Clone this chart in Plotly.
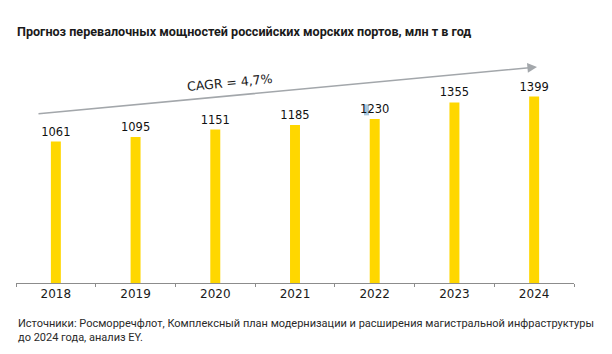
import plotly.graph_objects as go

years = ["2018", "2019", "2020", "2021", "2022", "2023", "2024"]
capacity = [1061, 1095, 1151, 1185, 1230, 1355, 1399]
title_text = "Прогноз перевалочных мощностей российских морских портов, млн т в год"
cagr_text = "CAGR = 4,7%"
source_text = ("Источники: Росморречфлот, Комплексный план модернизации и расширения магистральной инфраструктуры"
               "<br>до 2024 года, анализ EY.")

W, H = 612, 354
ML, MR, MT, MB = 16, 38, 50, 70.5
pw, ph = W - ML - MR, H - MT - MB

def px(x):
    return (x - ML) / pw

def py(y):
    return (H - MB - y) / ph

fig = go.Figure()
fig.add_trace(go.Bar(
    x=years, y=capacity,
    marker=dict(color="#FFD700", line=dict(width=0)),
    text=[str(v) for v in capacity],
    textposition="outside",
    constraintext="none",
    textfont=dict(family="DejaVu Sans", size=11.5, color="#111111"),
    cliponaxis=False,
    width=0.125,
))

fig.update_layout(
    width=W, height=H,
    margin=dict(l=ML, r=MR, t=MT, b=MB),
    paper_bgcolor="white", plot_bgcolor="white",
    showlegend=False,
    xaxis=dict(
        type="category",
        showline=True, linecolor="#8c8c8c", linewidth=1,
        ticks="outside", tickson="boundaries", ticklen=3, tickcolor="#8c8c8c",
        tickfont=dict(family="DejaVu Sans", size=12, color="#1a1a1a"),
        showgrid=False, zeroline=False,
    ),
    yaxis=dict(range=[0, 1748], visible=False, showgrid=False, zeroline=False),
)

# title
fig.add_annotation(
    text="<b>" + title_text + "</b>", xref="paper", yref="paper",
    x=px(15), y=py(31), xanchor="left", yanchor="middle", showarrow=False,
    font=dict(family="Roboto", size=12.6, color="#1a1a1a"),
)

# CAGR arrow
fig.add_annotation(
    xref="paper", yref="paper", x=px(537), y=py(67),
    ax=37 - 537, ay=114 - 67, axref="pixel", ayref="pixel",
    text="", showarrow=True, arrowhead=2, arrowsize=1.2, arrowwidth=1.6,
    arrowcolor="#a3a7ab",
)
fig.add_annotation(
    text=cagr_text, xref="paper", yref="paper", x=px(230), y=py(83),
    xanchor="center", yanchor="middle", showarrow=False, textangle=-5.4,
    font=dict(family="DejaVu Sans", size=12.5, color="#1a1a1a"),
)

# small highlight artifact near 2022 label
fig.add_shape(type="rect", xref="paper", yref="paper",
              x0=px(364), x1=px(369), y0=py(115.5), y1=py(104.5),
              fillcolor="#a9c7de", line=dict(width=0), layer="below")

# source
fig.add_annotation(
    text=source_text, xref="paper", yref="paper", x=px(16), y=py(331.5),
    xanchor="left", yanchor="middle", align="left", showarrow=False,
    font=dict(family="Roboto", size=11, color="#2a2a2a"),
)

fig.write_html("out.html")
